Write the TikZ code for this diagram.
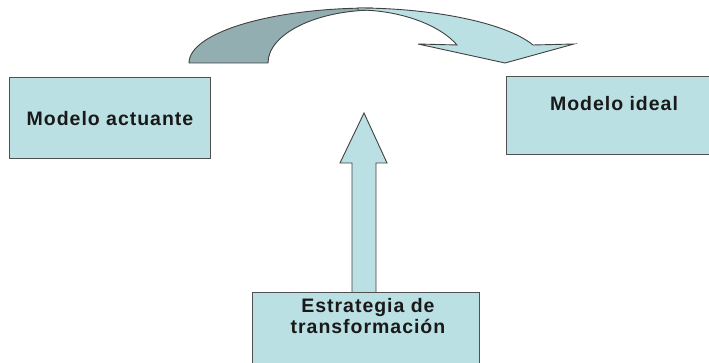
\documentclass[tikz,border=0pt]{standalone}
\usepackage{fontspec}
\setmainfont{Liberation Sans}[LetterSpace=5]
\usetikzlibrary{calc}
\definecolor{boxfill}{HTML}{BBE0E3}
\definecolor{backfill}{HTML}{92AEB0}
\definecolor{edge}{HTML}{505050}
\begin{document}
\begin{tikzpicture}[x=1pt,y=-1pt,
  box/.style={draw=edge,line width=1.1pt,fill=boxfill,inner sep=0pt,anchor=north west},
  lbl/.style={font=\bfseries\fontsize{19.5}{20.5}\selectfont,text=black!90,align=center,inner sep=0pt},
  shapeline/.style={draw=edge!80!black,line width=0.9pt,line join=miter}]
\useasboundingbox (0,0) rectangle (709,363);
\clip (0,0) rectangle (709,363);
\fill[white] (0,0) rectangle (709,363);
% boxes
\node[box,minimum width=201pt,minimum height=81pt] (actu) at (9,77) {};
\node[lbl] (actutxt) at (110,119) {Modelo actuante};
\node[box,minimum width=210pt,minimum height=78pt] (ideal) at (506,76) {};
\node[lbl] (idealtxt) at (614,104) {Modelo ideal};
% vertical block arrow
\coordinate (sb) at (364,292);
\draw[shapeline,fill=boxfill] ($(sb)+(-12,0)$) -- ($(sb)+(-12,-129)$) -- ($(sb)+(-24,-129)$)
  -- ($(sb)+(0,-179)$) -- ($(sb)+(23,-129)$) -- ($(sb)+(12,-129)$) -- ($(sb)+(12,0)$);
\node[box,minimum width=227pt,minimum height=90pt] (estr) at (252,292) {};
\node[lbl] (estrtxt) at (368,316) {Estrategia de\\transformación};
% curved arrow: back part
\draw[shapeline,fill=backfill] (189,63) .. controls (189,33) and (270,8) .. (372,8)
  -- (376,10) .. controls (316,10) and (268,34) .. (268,63) -- cycle;
% curved arrow: front part
\draw[shapeline,fill=boxfill] (358,8) .. controls (430,8) and (505,22) .. (533,45)
  -- (574,44) -- (505,63) -- (418,44) -- (457,45)
  .. controls (440,25) and (400,10) .. (358,10) -- cycle;
\end{tikzpicture}
\end{document}
